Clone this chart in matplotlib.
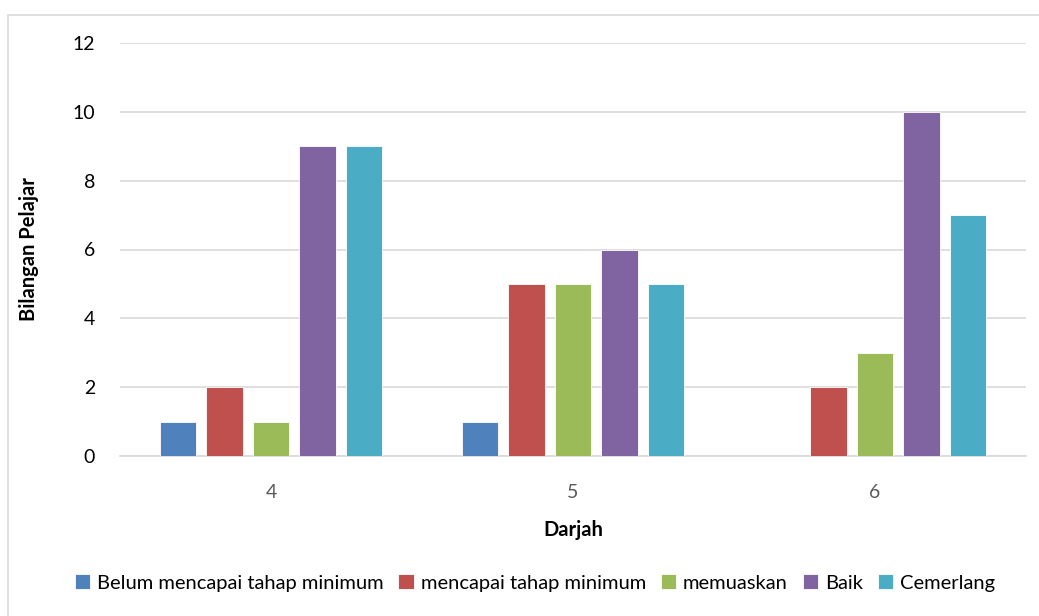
import numpy as np
import matplotlib.pyplot as plt
from matplotlib.patches import Rectangle

plt.rcParams['font.family'] = ['Lato', 'DejaVu Sans']

darjah = ['4', '5', '6']
series = ['Belum mencapai tahap minimum', 'mencapai tahap minimum',
          'memuaskan', 'Baik', 'Cemerlang']
belum = [1, 1, 0]
mencapai = [2, 5, 2]
memuaskan = [1, 5, 3]
baik = [9, 6, 10]
cemerlang = [9, 5, 7]
colors = ['#4F81BD', '#C0504D', '#9BBB59', '#8064A2', '#4BACC6']

fig = plt.figure(figsize=(10.39, 6.16), dpi=100)
ax = fig.add_axes([120 / 1039, 1 - 456 / 616, 906 / 1039, 413 / 616])

# chart frame
fig.patches.append(Rectangle((8 / 1039, -0.1), 1.2, 1 - 15 / 616 + 0.1,
                             transform=fig.transFigure, fill=False,
                             edgecolor='#d9d9d9', linewidth=1.2))

x = np.arange(len(darjah))
w = 0.122
step = 0.154
values = [belum, mencapai, memuaskan, baik, cemerlang]
for i, (name, vals) in enumerate(zip(series, values)):
    ax.bar(x + (i - 2) * step, vals, w, color=colors[i], label=name,
           edgecolor='white', linewidth=0.6, zorder=3)

ax.set_xlim(-0.5, 2.5)
ax.set_ylim(0, 12)
ax.set_yticks(range(0, 13, 2))
ax.set_xticks(x)
ax.set_xticklabels(darjah)
ax.grid(axis='y', color='#d9d9d9', linewidth=1.2, zorder=0)
for s in ['top', 'right', 'left']:
    ax.spines[s].set_visible(False)
ax.spines['bottom'].set_color('#d9d9d9')
ax.spines['bottom'].set_linewidth(1.2)
ax.tick_params(axis='both', length=0, labelsize=14)
ax.tick_params(axis='y', pad=18, colors='black')
ax.tick_params(axis='x', pad=20, labelcolor='#595959')

ax.set_xlabel('Darjah', fontsize=14.5, fontweight='bold', labelpad=14)
ax.set_ylabel('Bilangan Pelajar', fontsize=14.5, fontweight='bold', labelpad=24)

fig.legend(loc='center', bbox_to_anchor=(0.515, 1 - 583 / 616), ncol=5,
           frameon=False, fontsize=14.5, handlelength=0.75, handleheight=0.75,
           handletextpad=0.35, columnspacing=0.75)

fig.savefig('out.png', dpi=100)
